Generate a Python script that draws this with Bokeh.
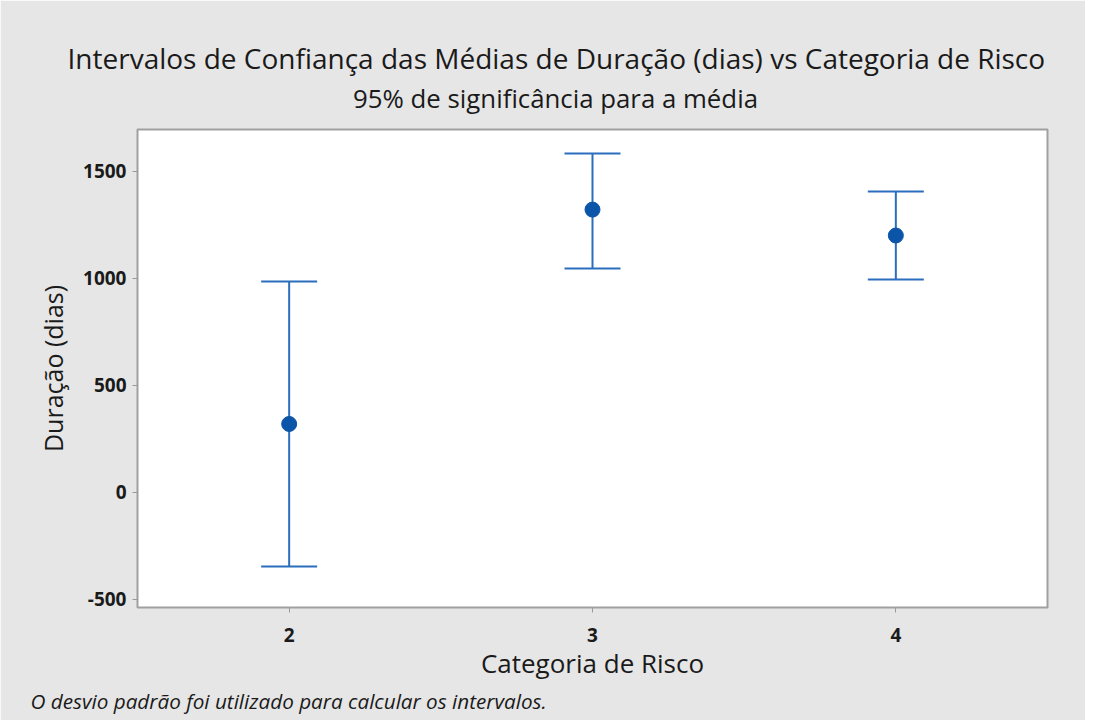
from bokeh.plotting import figure
from bokeh.models import (ColumnDataSource, Whisker, TeeHead, Title, FixedTicker, Range1d,
                          LinearAxis)
from bokeh.embed import file_html
from bokeh.resources import INLINE

# Data
categories = [2, 3, 4]
means = [319, 1320, 1199]
upper = [984, 1582, 1404]
lower = [-347, 1045, 993]

y_ticks = [-500, 0, 500, 1000, 1500]
y_tick_labels = ["-500", "0", "500", "1000", "1500"]

title_text = "Intervalos de Confiança das Médias de Duração (dias) vs Categoria de Risco"
subtitle_text = "95% de significância para a média"
footer_text = "O desvio padrão foi utilizado para calcular os intervalos."

FONT = "Open Sans"
BG = "#e6e6e6"
LINE = "#2a6ebd"
MARK = "#0a55a8"
TXT = "#1a1a1a"

X_LO, X_HI = 1.5, 4.5
FRAME_L, FRAME_R = 137, 1047

src = ColumnDataSource(dict(x=categories, m=means, up=upper, lo=lower))

p = figure(width=1085, height=720, output_backend="svg", toolbar_location=None,
           x_range=Range1d(X_LO, X_HI), y_range=Range1d(-538, 1694),
           min_border_left=FRAME_L, min_border_right=1085 - FRAME_R,
           min_border_top=129, min_border_bottom=113)

p.background_fill_color = "white"
p.border_fill_color = BG
p.outline_line_color = "#a0a0a0"
p.outline_line_width = 2
p.xgrid.visible = False
p.ygrid.visible = False

for ax in (p.xaxis[0], p.yaxis[0]):
    ax.axis_line_color = None
    ax.major_tick_line_color = "#9a9a9a"
    ax.major_tick_line_width = 1
    ax.major_tick_out = 5
    ax.major_tick_in = 0
    ax.minor_tick_line_color = None
    ax.major_label_text_font = FONT
    ax.major_label_text_font_size = "19px"
    ax.major_label_text_font_style = "bold"
    ax.major_label_text_color = TXT
    ax.axis_label_text_font = FONT
    ax.axis_label_text_font_style = "normal"
    ax.axis_label_text_color = TXT

p.xaxis.axis_label_text_font_size = "26px"
p.yaxis.axis_label_text_font_size = "25px"
p.xaxis.ticker = FixedTicker(ticks=categories)
p.yaxis.ticker = FixedTicker(ticks=y_ticks)
p.yaxis.major_label_overrides = {t: s for t, s in zip(y_ticks, y_tick_labels)}
p.xaxis.axis_label = "Categoria de Risco"
p.yaxis.axis_label = "Duração (dias)"
p.xaxis.major_label_standoff = 15
p.yaxis.major_label_standoff = 6
p.xaxis.axis_label_standoff = 0
p.yaxis.axis_label_standoff = 10

w = Whisker(source=src, base="x", upper="up", lower="lo", dimension="height",
            line_color=LINE, line_width=2,
            upper_head=TeeHead(size=56, line_color=LINE, line_width=2),
            lower_head=TeeHead(size=56, line_color=LINE, line_width=2))
p.add_layout(w)

p.scatter("x", "m", source=src, size=15, color=MARK, marker="circle")

# subtitle: centred on the page (x = 555 px), drawn as the single label of a bare top axis
sub_x = round(X_LO + (555 - FRAME_L) / (FRAME_R - FRAME_L) * (X_HI - X_LO), 3)
sub_axis = LinearAxis(ticker=FixedTicker(ticks=[sub_x]),
                      major_label_overrides={sub_x: subtitle_text},
                      axis_line_color=None, major_tick_line_color=None,
                      minor_tick_line_color=None, major_tick_out=0, major_tick_in=0,
                      major_label_standoff=14, major_label_text_font=FONT,
                      major_label_text_font_size="25.8px", major_label_text_color=TXT)
p.add_layout(sub_axis, "above")

p.add_layout(Title(text=title_text, align="left", offset=-70, standoff=0,
                   text_font=FONT, text_font_size="28px", text_font_style="normal",
                   text_color=TXT), "above")
p.add_layout(Title(text=footer_text, align="left", offset=-107, standoff=3,
                   text_font=FONT, text_font_size="20.7px", text_font_style="italic",
                   text_color=TXT), "below")

open("out.html", "w").write(file_html(p, INLINE))
